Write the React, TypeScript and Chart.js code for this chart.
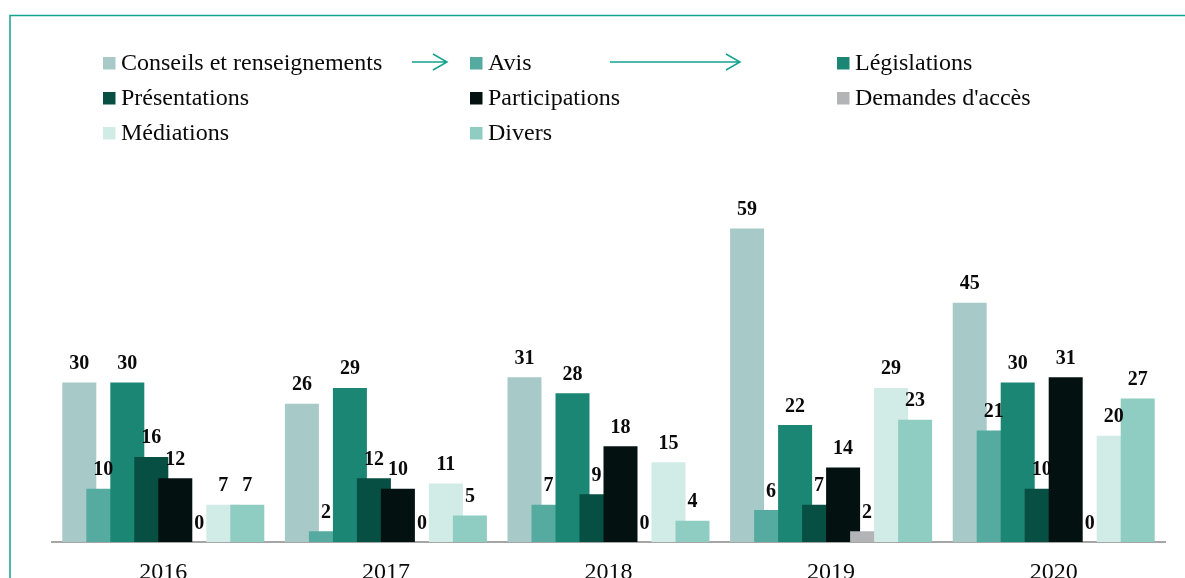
import React, { useEffect, useRef } from "react";
import { Chart, registerables } from "chart.js";

Chart.register(...registerables);

const years = ["2016", "2017", "2018", "2019", "2020"];

const seriesLabels = [
  "Conseils et renseignements",
  "Avis",
  "Législations",
  "Présentations",
  "Participations",
  "Demandes d'accès",
  "Médiations",
  "Divers",
];

const conseils = [30, 26, 31, 59, 45];
const avis = [10, 2, 7, 6, 21];
const legislations = [30, 29, 28, 22, 30];
const presentations = [16, 12, 9, 7, 10];
const participations = [12, 10, 18, 14, 31];
const demandes = [0, 0, 0, 2, 0];
const mediations = [7, 11, 15, 29, 20];
const divers = [7, 5, 4, 23, 27];

const seriesValues = [
  conseils,
  avis,
  legislations,
  presentations,
  participations,
  demandes,
  mediations,
  divers,
];

const seriesColors = [
  "#a7c9c8",
  "#56aba0",
  "#1b8673",
  "#074e43",
  "#031211",
  "#b2b4b5",
  "#d1ebe6",
  "#8fcdc3",
];

const SERIF = "'Liberation Serif', 'Times New Roman', serif";
const TEAL = "#14a38f";

// draw datasets in natural order so later series overlap earlier ones
const forwardDrawPlugin = {
  id: "forwardDraw",
  beforeDatasetsDraw(chart: any) {
    const n = chart.data.datasets.length;
    for (let i = 0; i < n; i++) {
      const meta = chart.getDatasetMeta(i);
      if (meta.visible !== false) meta.controller.draw();
    }
    return false;
  },
};

const valueLabelPlugin = {
  id: "valueLabels",
  afterDraw(chart: any) {
    const ctx = chart.ctx;
    ctx.save();
    ctx.font = `bold 20px ${SERIF}`;
    ctx.fillStyle = "#0a0a0a";
    ctx.textAlign = "center";
    ctx.textBaseline = "alphabetic";
    chart.data.datasets.forEach((ds: any, i: number) => {
      const meta = chart.getDatasetMeta(i);
      meta.data.forEach((bar: any, j: number) => {
        ctx.fillText(String(ds.data[j]), bar.x, bar.y - 13.5);
      });
    });
    ctx.restore();
  },
};

const frameLegendPlugin = {
  id: "frameLegend",
  afterDraw(chart: any) {
    const ctx = chart.ctx;
    ctx.save();
    // frame
    ctx.strokeStyle = TEAL;
    ctx.lineWidth = 1.5;
    ctx.beginPath();
    ctx.moveTo(10, chart.height);
    ctx.lineTo(10, 15.5);
    ctx.lineTo(chart.width, 15.5);
    ctx.stroke();

    // legend
    const colX = [103, 470, 837];
    const rowTop = [57, 92, 127];
    ctx.font = `24px ${SERIF}`;
    ctx.textAlign = "left";
    ctx.textBaseline = "alphabetic";
    chart.data.datasets.forEach((ds: any, i: number) => {
      const c = i % 3;
      const r = Math.floor(i / 3);
      const x = colX[c];
      const y = rowTop[r];
      ctx.fillStyle = ds.backgroundColor;
      ctx.fillRect(x, y, 12.5, 12.5);
      ctx.fillStyle = "#0a0a0a";
      ctx.fillText(ds.label, x + 18, y + 13);
    });

    // decorative arrows
    const arrow = (x1: number, x2: number, y: number) => {
      ctx.strokeStyle = TEAL;
      ctx.lineWidth = 1.5;
      ctx.beginPath();
      ctx.moveTo(x1, y);
      ctx.lineTo(x2, y);
      ctx.moveTo(x2 - 14, y - 8);
      ctx.lineTo(x2, y);
      ctx.lineTo(x2 - 14, y + 8);
      ctx.stroke();
    };
    arrow(412, 447, 62);
    arrow(610, 740, 62);
    ctx.restore();
  },
};

export default function App() {
  const canvasRef = useRef<HTMLCanvasElement | null>(null);

  useEffect(() => {
    if (!canvasRef.current) return;
    const chart = new Chart(canvasRef.current, {
      type: "bar",
      data: {
        labels: years,
        datasets: seriesLabels.map((label, i) => ({
          label,
          data: seriesValues[i],
          backgroundColor: seriesColors[i],
          borderWidth: 0,
          categoryPercentage: 0.8625,
          barPercentage: 1.4167,
        })),
      },
      options: {
        animation: false,
        responsive: true,
        maintainAspectRatio: false,
        layout: { padding: { left: 52, right: 20, top: 170, bottom: 0 } },
        plugins: {
          legend: { display: false },
          tooltip: { enabled: false },
          title: { display: false },
        },
        scales: {
          x: {
            grid: { display: false, drawTicks: false },
            border: { display: true, color: "#a6a6a6", width: 2 },
            ticks: {
              color: "#0a0a0a",
              font: { family: SERIF, size: 24 },
              padding: 16,
            },
            afterFit(scale: any) {
              scale.height = 36;
            },
          },
          y: {
            display: false,
            min: 0,
            max: 70,
          },
        },
      },
      plugins: [forwardDrawPlugin, valueLabelPlugin, frameLegendPlugin],
    });
    return () => chart.destroy();
  }, []);

  return (
    <div
      style={{
        position: "fixed",
        left: 0,
        top: 0,
        width: 1185,
        height: 578,
        background: "#ffffff",
      }}
    >
      <canvas ref={canvasRef} />
    </div>
  );
}
